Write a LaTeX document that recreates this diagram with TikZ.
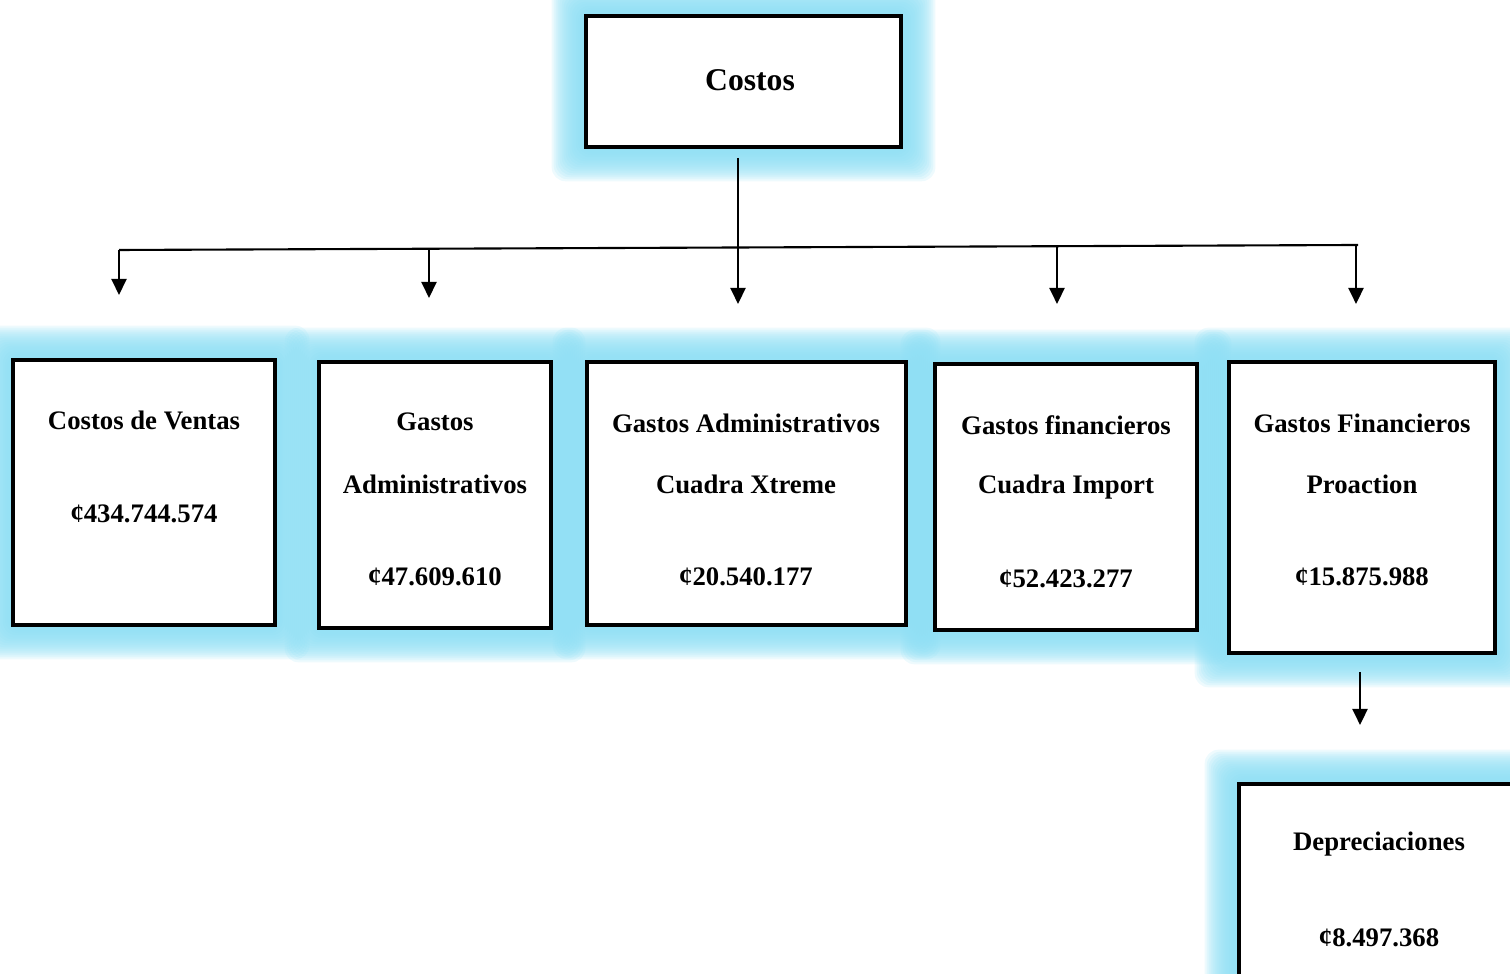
\documentclass[tikz,border=0pt]{standalone}
\usepackage{fontspec}
\setmainfont{Liberation Serif}
\usetikzlibrary{arrows.meta,backgrounds,calc}
\definecolor{glow_cyan}{RGB}{140,222,244}
\tikzstyle{box}=[rectangle,fill=white,draw=black,line width=1.3pt,inner sep=0pt]
\tikzstyle{lbl}=[font=\bfseries\fontsize{7.6}{9}\selectfont,inner sep=0pt]
\tikzstyle{title}=[font=\bfseries\fontsize{9}{11}\selectfont,inner sep=0pt]
\tikzstyle{arr}=[line width=0.6pt,-{Triangle[length=0.16cm,width=0.15cm]}]
\tikzstyle{bar}=[line width=0.6pt]

\begin{document}
\begin{tikzpicture}[x=0.01cm,y=-0.01cm]
        \useasboundingbox (0,0) rectangle (1510,974);
        % boxes
        \node [style=box,minimum width=3.15cm,minimum height=1.31cm] (top) at (743.5,81.5) {};
        \node [style=box,minimum width=2.62cm,minimum height=2.65cm] (cv) at (144,492.5) {};
        \node [style=box,minimum width=2.32cm,minimum height=2.66cm] (ga) at (435,495) {};
        \node [style=box,minimum width=3.19cm,minimum height=2.63cm] (gx) at (746.5,493.5) {};
        \node [style=box,minimum width=2.62cm,minimum height=2.66cm] (gi) at (1066,497) {};
        \node [style=box,minimum width=2.66cm,minimum height=2.91cm] (gp) at (1362,507.5) {};
        \node [style=box,minimum width=2.81cm,minimum height=2.16cm] (dep) at (1379.5,892) {};
        % glow
        \begin{scope}[on background layer]
        \foreach \n in {top,cv,ga,gx,gi,gp,dep}
          \foreach \d in {32,30,...,4}
            \fill [glow_cyan,opacity=0.15,rounded corners=0.14cm]
              ($(\n.south west)+(-\d,\d)$) rectangle ($(\n.north east)+(\d,-\d)$);
        \end{scope}
        % texts
        \node [style=title] (top-t) at (750,80) {Costos};
        \node [style=lbl] (cv-t) at (144,420) {Costos de Ventas};
        \node [style=lbl] (cv-v) at (144,514) {¢434.744.574};
        \node [style=lbl] (ga-t) at (435,422) {Gastos};
        \node [style=lbl] (ga-s) at (435,484) {Administrativos};
        \node [style=lbl] (ga-v) at (435,577) {¢47.609.610};
        \node [style=lbl] (gx-t) at (746,423) {Gastos Administrativos};
        \node [style=lbl] (gx-s) at (746,484) {Cuadra Xtreme};
        \node [style=lbl] (gx-v) at (746,577) {¢20.540.177};
        \node [style=lbl] (gi-t) at (1066,425) {Gastos financieros};
        \node [style=lbl] (gi-s) at (1066,487) {Cuadra Import};
        \node [style=lbl] (gi-v) at (1066,579) {¢52.423.277};
        \node [style=lbl] (gp-t) at (1362,423) {Gastos Financieros};
        \node [style=lbl] (gp-s) at (1362,484) {Proaction};
        \node [style=lbl] (gp-v) at (1362,577) {¢15.875.988};
        \node [style=lbl] (dep-t) at (1379,844) {Depreciaciones};
        \node [style=lbl] (dep-v) at (1379,938) {¢8.497.368};
        % connectors
        \coordinate (trunk) at (738,158);
        \coordinate (b1) at (119,250);
        \coordinate (b2) at (429,249);
        \coordinate (b3) at (738,248);
        \coordinate (b4) at (1057,247);
        \coordinate (b5) at (1358,245);
        \coordinate (b5a) at (1356,245);
        \coordinate (e1) at (119,295);
        \coordinate (e2) at (429,298);
        \coordinate (e3) at (738,304);
        \coordinate (e4) at (1057,304);
        \coordinate (e5) at (1356,304);
        \coordinate (p1) at (1360,672);
        \coordinate (p2) at (1360,725);
        \draw [style=bar] (trunk) to (b3);
        \draw [style=bar] (b1) to (b5);
        \draw [style=arr] (b1) to (e1);
        \draw [style=arr] (b2) to (e2);
        \draw [style=arr] (b3) to (e3);
        \draw [style=arr] (b4) to (e4);
        \draw [style=arr] (b5a) to (e5);
        \draw [style=arr] (p1) to (p2);
    \end{tikzpicture}
\end{document}
